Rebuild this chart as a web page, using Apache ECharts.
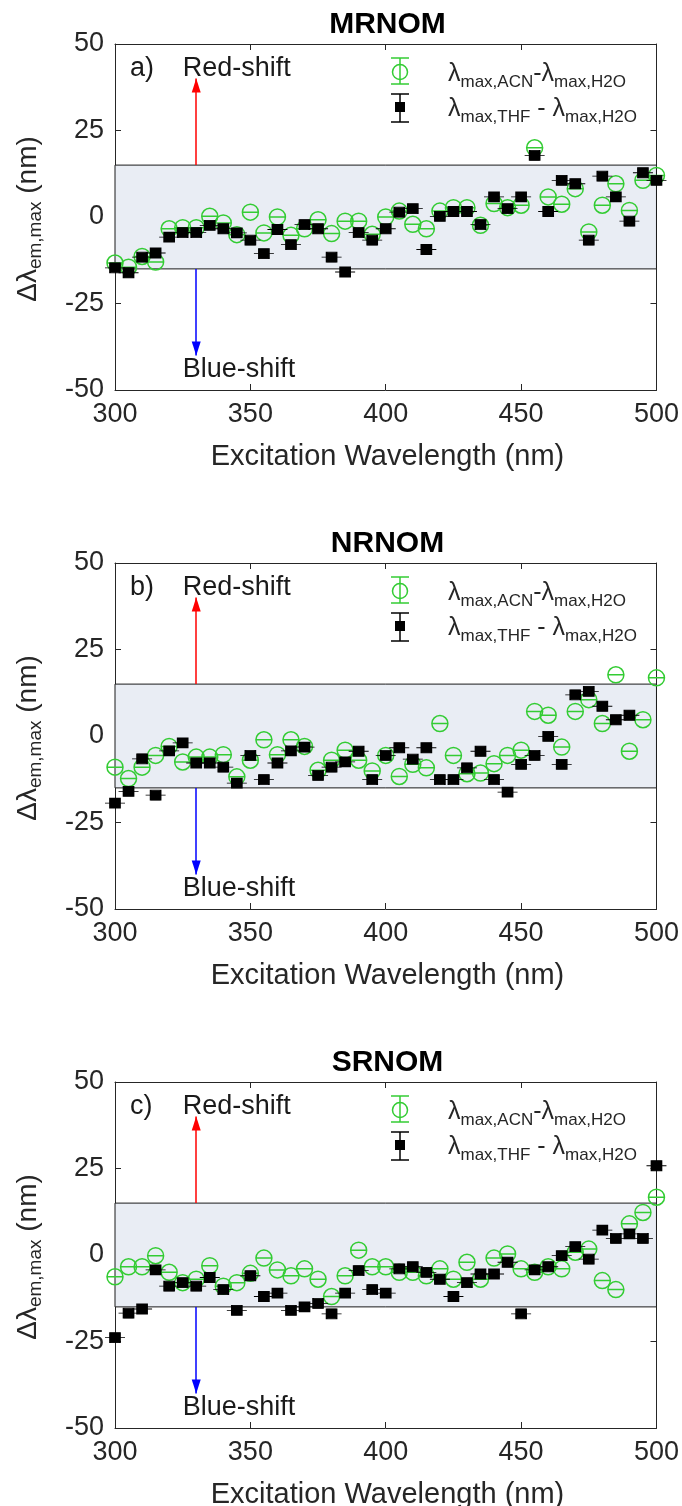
<!DOCTYPE html>
<html><head><meta charset="utf-8">
<script src="https://cdn.jsdelivr.net/npm/echarts@6/dist/echarts.min.js"></script>
<style>html,body{margin:0;padding:0;background:#fff}#c{width:682px;height:1506px}</style>
</head><body><div id="c"></div>
<script>
// ---------- data ----------
const wavelengths = [300,305,310,315,320,325,330,335,340,345,350,355,360,365,370,375,380,385,390,395,400,405,410,415,420,425,430,435,440,445,450,455,460,465,470,475,480,485,490,495,500];

const mrnomAcn = [-13.3,-14.5,-11.4,-13,-3.4,-3.1,-3.1,0.2,-1.7,-5.1,1.4,-4.6,0,-5.3,-3.4,-0.8,-4.8,-1.2,-1.2,-5,0,1.7,-2.1,-3.4,1.7,2.7,2.7,-2.4,3.9,2.7,3.4,20,5.8,3.7,8.2,-4.3,3.4,9.6,1.9,10.6,12];
const mrnomThf = [-14.7,-16.1,-11.6,-10.4,-5.8,-4.5,-4.5,-2.4,-3.4,-4.6,-6.7,-10.6,-3.6,-8,-2.2,-3.4,-11.6,-15.9,-4.5,-6.7,-3.4,1.4,2.4,-9.4,0.2,1.6,1.6,-2.2,5.8,2.4,5.8,17.8,1.6,10.6,9.6,-6.7,11.8,5.8,-1.2,12.8,10.6];

const nrnomAcn = [-9,-12.3,-9,-5.6,-3,-7.5,-6.1,-6.1,-5.4,-11.8,-7,-1.1,-5.4,-1.1,-3,-9.9,-7,-4.1,-7,-10.1,-5.6,-11.7,-8.2,-9.2,3.6,-5.6,-10.9,-10.7,-8,-5.6,-4.1,7.1,6,-3.2,7.1,10.5,3.6,17.7,-4.4,4.7,16.8];
const nrnomThf = [-19.4,-16,-6.6,-17.1,-4.3,-2,-7.8,-7.8,-9,-13.6,-5.6,-12.6,-7.8,-4.3,-3.2,-11.4,-9,-7.5,-4.4,-12.6,-5.6,-3.4,-6.7,-3.4,-12.6,-12.6,-9.2,-4.4,-12.6,-16.2,-8.2,-5.6,-0.1,-8.2,11.9,12.9,8.6,4.7,6,null,null];

const srnomAcn = [-6.3,-3.4,-3.4,-0.2,-5,-8,-7,-3.1,-9,-8,-5.3,-0.9,-4.3,-6,-4,-7,-12,-6,1.4,-3.4,-3.4,-5,-5,-6,-4,-7,-2.1,-7,-0.9,0.3,-4,-5,-3.4,-4,0.8,1.7,-7.4,-10,9,12.3,16.7];
const srnomThf = [-23.9,-16.8,-15.6,-4.3,-9,-8,-9,-6.5,-10,-16,-6,-12,-11,-16,-15,-14,-17,-11,-4.5,-10,-11,-4,-3.4,-5,-7,-12,-8,-5.5,-5.5,-2.1,-17,-4.3,-3.4,-0.2,2.4,-1.2,7.2,4.8,6.1,4.8,25.8];

const panelTitles = ['MRNOM', 'NRNOM', 'SRNOM'];
const panelTags = ['a)', 'b)', 'c)'];
const xRange = [300, 500];   // x ticks 300..500 step 50
const yRange = [-50, 50];    // y ticks -50..50 step 25
const shadeBand = [-15, 15];
const arrowX = 330;
const redArrow = [15, 40];
const blueArrow = [-15, -40];
const xAxisTitle = 'Excitation Wavelength (nm)';

// ---------- layout & style ----------
const acnSets = [mrnomAcn, nrnomAcn, srnomAcn];
const thfSets = [mrnomThf, nrnomThf, srnomThf];
const LEFT = 115, WIDTH = 545, HEIGHT = 346;
const TOPS = [44, 563, 1082];
const FONT = "'Liberation Sans', Arial, Helvetica, sans-serif";
const AX = '#262626';
const GREEN = '#33cc33';
const SHADE = '#e9edf4';
const RED = '#ff0000', BLUE = '#0000ff';
const HEAD_L = 14, HEAD_W = 4.5;
const greenSym = 'path://M-1,0A1,1,0,1,1,1,0A1,1,0,1,1,-1,0ZM-1,0L1,0';
const blackSym = 'path://M-0.5,-0.5L0.5,-0.5L0.5,0.5L-0.5,0.5ZM-1,0L1,0';

function pairs(arr) {
  const out = [];
  wavelengths.forEach((w, i) => { if (arr[i] !== null && arr[i] !== undefined) out.push([w, arr[i]]); });
  return out;
}

const chart = echarts.init(document.getElementById('c'), null, {renderer: 'canvas'});
const grid = [], xAxis = [], yAxis = [], series = [];
TOPS.forEach((t, i) => {
  grid.push({left: LEFT, top: t, width: WIDTH, height: HEIGHT});
  const tick = {show: true, inside: true, length: 6, lineStyle: {color: AX, width: 1}};
  const line = {show: true, onZero: false, lineStyle: {color: AX, width: 1}};
  xAxis.push({gridIndex: i, type: 'value', position: 'bottom', min: xRange[0], max: xRange[1], interval: 50,
    axisLine: line, axisTick: tick, splitLine: {show: false},
    axisLabel: {fontSize: 27, color: AX, margin: 11, fontFamily: FONT}});
  xAxis.push({gridIndex: i, type: 'value', position: 'top', min: xRange[0], max: xRange[1], interval: 50,
    axisLine: line, axisTick: tick, splitLine: {show: false}, axisLabel: {show: false}});
  yAxis.push({gridIndex: i, type: 'value', position: 'left', min: yRange[0], max: yRange[1], interval: 25,
    axisLine: line, axisTick: tick, splitLine: {show: false},
    axisLabel: {fontSize: 27, color: AX, margin: 11, fontFamily: FONT}});
  yAxis.push({gridIndex: i, type: 'value', position: 'right', min: yRange[0], max: yRange[1], interval: 25,
    axisLine: line, axisTick: tick, splitLine: {show: false}, axisLabel: {show: false}});

  series.push({
    type: 'scatter', xAxisIndex: 2 * i, yAxisIndex: 2 * i, z: 3,
    symbol: greenSym, symbolSize: 16,
    itemStyle: {color: 'rgba(0,0,0,0)', borderColor: GREEN, borderWidth: 1.5, opacity: 1},
    data: pairs(acnSets[i]),
    markArea: {silent: true, z: 1,
      itemStyle: {color: SHADE, borderColor: '#1a1a1a', borderWidth: 1},
      data: [[{coord: [xRange[0], shadeBand[0]]}, {coord: [xRange[1], shadeBand[1]]}]]},
    markLine: {silent: true, animation: false, symbol: ['none', 'none'],
      label: {show: false},
      data: [
        [{coord: [arrowX, redArrow[0]], lineStyle: {color: RED, width: 1.5, type: 'solid'}}, {coord: [arrowX, redArrow[1]]}],
        [{coord: [arrowX, blueArrow[0]], lineStyle: {color: BLUE, width: 1.5, type: 'solid'}}, {coord: [arrowX, blueArrow[1]]}]
      ]}
  });
  series.push({
    type: 'scatter', xAxisIndex: 2 * i, yAxisIndex: 2 * i, z: 4,
    symbol: blackSym, symbolSize: [20, 10],
    itemStyle: {color: '#000', borderColor: '#000', borderWidth: 1.2, opacity: 1},
    data: pairs(thfSets[i])
  });
});

chart.setOption({animation: false, backgroundColor: '#fff', grid, xAxis, yAxis, series});

// ---------- annotations (positioned through the axes) ----------
const sub = {fontSize: 17, lineHeight: 15, verticalAlign: 'bottom', fontFamily: FONT, fill: AX};
const main = {fontSize: 25, lineHeight: 33, verticalAlign: 'middle', fontFamily: FONT, fill: AX};
const graphic = [];
TOPS.forEach((t, i) => {
  const f = {xAxisIndex: 2 * i, yAxisIndex: 2 * i};
  const tag = chart.convertToPixel(f, [305.5, 43]);
  const red = chart.convertToPixel(f, [325, 43]);
  const blue = chart.convertToPixel(f, [325, -44]);
  const redTip = chart.convertToPixel(f, [arrowX, redArrow[1]]);
  const blueTip = chart.convertToPixel(f, [arrowX, blueArrow[1]]);
  const cx = LEFT + WIDTH / 2;
  const txt = (x, y, text, extra) => Object.assign({type: 'text', x, y, silent: true, z: 50,
    style: Object.assign({text, fill: '#1a1a1a', font: "27px " + FONT, textAlign: 'left', textVerticalAlign: 'middle'}, extra || {})});
  graphic.push(txt(cx, t - 19, panelTitles[i], {font: "bold 30px " + FONT, fill: '#000', textAlign: 'center'}));
  graphic.push(txt(tag[0], tag[1], panelTags[i]));
  graphic.push(txt(red[0], red[1], 'Red-shift'));
  graphic.push(txt(blue[0], blue[1], 'Blue-shift'));
  graphic.push(txt(cx, t + HEIGHT + 67, xAxisTitle, {fill: AX, font: "29px " + FONT, textAlign: 'center'}));
  // arrow heads
  graphic.push({type: 'polygon', silent: true, z: 40,
    shape: {points: [[redTip[0], redTip[1]], [redTip[0] - HEAD_W, redTip[1] + HEAD_L], [redTip[0] + HEAD_W, redTip[1] + HEAD_L]]},
    style: {fill: RED}});
  graphic.push({type: 'polygon', silent: true, z: 40,
    shape: {points: [[blueTip[0], blueTip[1]], [blueTip[0] - HEAD_W, blueTip[1] - HEAD_L], [blueTip[0] + HEAD_W, blueTip[1] - HEAD_L]]},
    style: {fill: BLUE}});
  // y-axis title
  graphic.push({type: 'text', x: 28, y: t + HEIGHT / 2 + 2, rotation: Math.PI / 2, silent: true, z: 50,
    style: {text: '{m|Δλ}{s|em,max}{m| (nm)}', textAlign: 'center', textVerticalAlign: 'middle',
      rich: {m: {fontSize: 28, lineHeight: 34, verticalAlign: 'middle', fontFamily: FONT, fill: AX},
             s: {fontSize: 19, lineHeight: 16, verticalAlign: 'bottom', fontFamily: FONT, fill: AX}}}});
  // legend
  const lx = LEFT + 285, ly1 = t + 28, ly2 = t + 63;
  const stroke = (c, w) => ({stroke: c, lineWidth: w, fill: null});
  graphic.push({type: 'line', silent: true, z: 50, shape: {x1: lx, y1: ly1 - 14, x2: lx, y2: ly1 + 12}, style: stroke(GREEN, 1.5)});
  graphic.push({type: 'line', silent: true, z: 50, shape: {x1: lx - 9, y1: ly1 - 14, x2: lx + 9, y2: ly1 - 14}, style: stroke(GREEN, 1.5)});
  graphic.push({type: 'line', silent: true, z: 50, shape: {x1: lx - 9, y1: ly1 + 12, x2: lx + 9, y2: ly1 + 12}, style: stroke(GREEN, 1.5)});
  graphic.push({type: 'circle', silent: true, z: 50, shape: {cx: lx, cy: ly1, r: 7.5}, style: {stroke: GREEN, lineWidth: 1.5, fill: 'rgba(0,0,0,0)'}});
  graphic.push({type: 'line', silent: true, z: 50, shape: {x1: lx, y1: ly2 - 13, x2: lx, y2: ly2 + 15}, style: stroke('#000', 1.5)});
  graphic.push({type: 'line', silent: true, z: 50, shape: {x1: lx - 9, y1: ly2 - 13, x2: lx + 9, y2: ly2 - 13}, style: stroke('#000', 1.5)});
  graphic.push({type: 'line', silent: true, z: 50, shape: {x1: lx - 9, y1: ly2 + 15, x2: lx + 9, y2: ly2 + 15}, style: stroke('#000', 1.5)});
  graphic.push({type: 'rect', silent: true, z: 51, shape: {x: lx - 5, y: ly2 - 5, width: 10, height: 10}, style: {fill: '#000'}});
  graphic.push({type: 'text', x: LEFT + 333, y: ly1 + 2, silent: true, z: 50,
    style: {text: '{m|λ}{s|max,ACN}{m|-λ}{s|max,H2O}', textAlign: 'left', textVerticalAlign: 'middle', rich: {m: main, s: sub}}});
  graphic.push({type: 'text', x: LEFT + 333, y: ly2 + 2, silent: true, z: 50,
    style: {text: '{m|λ}{s|max,THF}{m| - λ}{s|max,H2O}', textAlign: 'left', textVerticalAlign: 'middle', rich: {m: main, s: sub}}});
});
chart.setOption({graphic});
</script></body></html>
